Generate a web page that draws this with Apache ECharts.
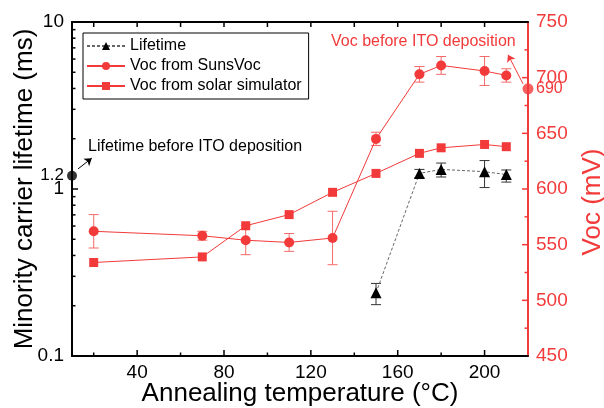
<!DOCTYPE html>
<html>
<head>
<meta charset="utf-8">
<title>Lifetime and Voc vs annealing temperature</title>
<script src="https://cdn.jsdelivr.net/npm/echarts@6/dist/echarts.min.js"></script>
<style>
html, body { margin: 0; padding: 0; background: #fff; }
#chart { width: 604px; height: 408px; }
</style>
</head>
<body>
<div id="chart"></div>
<script>
// data
var temps = [20, 70, 90, 110, 130, 150, 170, 180, 200, 210];
var vocSuns = [562, 558, 554, 552, 556, 645, 703, 711, 706, 702];
var vocSunsErr = [15, 4, 13, 8, 24, 6, 7, 8, 13, 6];
var vocSolar = [534, 539, 567, 577, 597, 614, 632, 637, 640, 638];
var lifeTemps = [150, 170, 180, 200, 210];
var lifetime = [0.239, 1.24, 1.31, 1.27, 1.22];
var lifeLow = [0.203, 1.17, 1.18, 1.02, 1.10];
var lifeHigh = [0.272, 1.31, 1.43, 1.48, 1.30];
var lifeBefore = [[10, 1.2]];
var vocBefore = [[220, 690]];

// ticks and labels
var xMajor = [40, 80, 120, 160, 200];
var xMinor = [20, 60, 100, 140, 180];
var lifeMajor = [1];
var lifeMinor = [0.2, 0.3, 0.4, 0.5, 0.6, 0.7, 0.8, 0.9, 2, 3, 4, 5, 6, 7, 8, 9];
var lifeLabels = [0.1, 1, 1.2, 10];
var vocMajor = [500, 550, 600, 650, 700];
var vocMinor = [475, 525, 575, 625, 675, 725];
var vocLabels = [450, 500, 550, 600, 650, 690, 700, 750];

var RED = '#f23a3a';
var FONT = 'Liberation Sans, Arial, sans-serif';

function pair(xs, ys) {
    return xs.map(function (x, i) { return [x, ys[i]]; });
}

var sunsErr = temps.map(function (x, i) { return [x, vocSuns[i] - vocSunsErr[i], vocSuns[i] + vocSunsErr[i]]; });
var lifeErr = lifeTemps.map(function (x, i) { return [x, lifeLow[i], lifeHigh[i]]; });

// tick lists: [value, isMajor]
var xTicks = xMajor.map(function (v) { return [v, 1]; }).concat(xMinor.map(function (v) { return [v, 0]; }));
var lifeTicks = lifeMajor.map(function (v) { return [10, v, 1]; }).concat(lifeMinor.map(function (v) { return [10, v, 0]; }));
var vocTicks = vocMajor.map(function (v) { return [220, v, 1]; }).concat(vocMinor.map(function (v) { return [220, v, 0]; }));

function errorBars(color) {
    return function (params, api) {
        var x = api.value(0);
        var lo = api.coord([x, api.value(1)]);
        var hi = api.coord([x, api.value(2)]);
        var w = 5;
        var st = { stroke: color, lineWidth: 1 };
        return {
            type: 'group',
            children: [
                { type: 'line', shape: { x1: lo[0], y1: lo[1], x2: hi[0], y2: hi[1] }, style: st },
                { type: 'line', shape: { x1: lo[0] - w, y1: lo[1], x2: lo[0] + w, y2: lo[1] }, style: st },
                { type: 'line', shape: { x1: hi[0] - w, y1: hi[1], x2: hi[0] + w, y2: hi[1] }, style: st }
            ]
        };
    };
}

// inside ticks on bottom and top edges
function xTickMarks(params, api) {
    var v = api.value(0);
    var len = api.value(1) ? 6 : 3.5;
    var b = api.coord([v, 0.1]);
    var t = api.coord([v, 10]);
    var st = { stroke: '#000', lineWidth: 1.5 };
    return {
        type: 'group',
        children: [
            { type: 'line', shape: { x1: b[0], y1: b[1], x2: b[0], y2: b[1] - len }, style: st },
            { type: 'line', shape: { x1: t[0], y1: t[1], x2: t[0], y2: t[1] + 5 }, style: st }
        ]
    };
}

function yTickMarks(color, dir) {
    return function (params, api) {
        var p = api.coord([api.value(0), api.value(1)]);
        var len = api.value(2) ? 6 : 3.5;
        return {
            type: 'line',
            shape: { x1: p[0], y1: p[1], x2: p[0] + dir * len, y2: p[1] },
            style: { stroke: color, lineWidth: 1.5 }
        };
    };
}

var chart = echarts.init(document.getElementById('chart'));

var option = {
    animation: false,
    backgroundColor: '#fff',
    textStyle: { fontFamily: FONT },
    grid: { left: 72, right: 76, top: 22, bottom: 52, outerBoundsMode: 'none', containLabel: false },
    legend: {
        data: ['Lifetime', 'Voc from SunsVoc', 'Voc from solar simulator'],
        orient: 'vertical',
        left: 83,
        top: 33,
        padding: [5, 7, 5, 3],
        itemGap: 4,
        itemWidth: 38,
        itemHeight: 10,
        borderColor: '#000',
        borderWidth: 1,
        borderRadius: 0,
        textStyle: { fontSize: 16, color: '#000', fontFamily: FONT }
    },
    xAxis: [
        {
            type: 'value', position: 'bottom', min: 10, max: 220,
            name: 'Annealing temperature (\u00B0C)',
            nameLocation: 'middle', nameGap: 25, nameMoveOverlap: false,
            nameTextStyle: { fontSize: 26, color: '#000', fontFamily: FONT },
            axisLine: { show: true, lineStyle: { color: '#000', width: 2 } },
            axisTick: { show: false },
            axisLabel: { customValues: xMajor, margin: 7, fontSize: 19, color: '#000', fontFamily: FONT },
            splitLine: { show: false }
        },
        {
            type: 'value', position: 'top', min: 10, max: 220,
            axisLine: { show: true, lineStyle: { color: '#000', width: 2 } },
            axisTick: { show: false },
            axisLabel: { show: false },
            splitLine: { show: false }
        }
    ],
    yAxis: [
        {
            type: 'log', logBase: 10, position: 'left', min: 0.1, max: 10,
            name: 'Minority carrier lifetime (ms)',
            nameLocation: 'middle', nameGap: 34, nameMoveOverlap: false,
            nameTextStyle: { fontSize: 26, color: '#000', fontFamily: FONT },
            axisLine: { show: true, lineStyle: { color: '#000', width: 2 } },
            axisTick: { show: false },
            axisLabel: {
                customValues: lifeLabels, margin: 8, color: '#000', fontFamily: FONT, fontSize: 19,
                formatter: function (v) {
                    var r = Math.round(v * 10) / 10;
                    return r === 1.2 ? '{s|1.2}' : String(r);
                },
                rich: { s: { fontSize: 17, color: '#000', fontFamily: FONT } }
            },
            splitLine: { show: false }
        },
        {
            type: 'value', position: 'right', min: 450, max: 750, interval: 50,
            name: 'Voc (mV)',
            nameLocation: 'middle', nameGap: 52, nameRotate: 90, nameMoveOverlap: false,
            nameTextStyle: { fontSize: 26, color: RED, fontFamily: FONT, padding: [0, 26, 0, 0] },
            axisLine: { show: true, lineStyle: { color: RED, width: 2 } },
            axisTick: { show: false },
            axisLabel: {
                customValues: vocLabels, margin: 8, color: RED, fontSize: 19, fontFamily: FONT,
                formatter: function (v) { return v === 690 ? '{s|690}' : String(v); },
                rich: { s: { fontSize: 16, color: RED, fontFamily: FONT } }
            },
            splitLine: { show: false }
        }
    ],
    graphic: [
        {
            type: 'text', left: 88, top: 139, z: 10,
            style: { text: 'Lifetime before ITO deposition', fontSize: 16, fill: '#000', fontFamily: FONT }
        },
        {
            type: 'text', left: 331, top: 34, z: 10,
            style: { text: 'Voc before ITO deposition', fontSize: 16, fill: RED, fontFamily: FONT }
        }
    ],
    series: [
        {
            name: 'x ticks', type: 'custom', xAxisIndex: 0, yAxisIndex: 0, z: 5, clip: false, silent: true,
            renderItem: xTickMarks, encode: { x: 0 }, data: xTicks
        },
        {
            name: 'lifetime ticks', type: 'custom', xAxisIndex: 0, yAxisIndex: 0, z: 5, clip: false, silent: true,
            renderItem: yTickMarks('#000', 1), encode: { x: 0, y: 1 }, data: lifeTicks
        },
        {
            name: 'voc ticks', type: 'custom', xAxisIndex: 0, yAxisIndex: 1, z: 5, clip: false, silent: true,
            renderItem: yTickMarks(RED, -1), encode: { x: 0, y: 1 }, data: vocTicks
        },
        {
            name: 'Voc error', type: 'custom', xAxisIndex: 0, yAxisIndex: 1, z: 1,
            renderItem: errorBars('#f56a6a'), encode: { x: 0, y: [1, 2] }, data: sunsErr, silent: true
        },
        {
            name: 'Lifetime error', type: 'custom', xAxisIndex: 0, yAxisIndex: 0, z: 1,
            renderItem: errorBars('#333'), encode: { x: 0, y: [1, 2] }, data: lifeErr, silent: true
        },
        {
            name: 'Lifetime', type: 'line', xAxisIndex: 0, yAxisIndex: 0, z: 3,
            data: pair(lifeTemps, lifetime),
            symbol: 'triangle', symbolSize: 11,
            itemStyle: { color: '#000' },
            lineStyle: { color: '#666', width: 1, type: [3, 2] }
        },
        {
            name: 'Voc from SunsVoc', type: 'line', xAxisIndex: 0, yAxisIndex: 1, z: 3,
            data: pair(temps, vocSuns),
            symbol: 'circle', symbolSize: 10,
            itemStyle: { color: RED },
            lineStyle: { color: RED, width: 1 }
        },
        {
            name: 'Voc from solar simulator', type: 'line', xAxisIndex: 0, yAxisIndex: 1, z: 3,
            data: pair(temps, vocSolar),
            symbol: 'rect', symbolSize: 9,
            itemStyle: { color: RED },
            lineStyle: { color: RED, width: 1 }
        },
        {
            name: 'Lifetime before', type: 'scatter', xAxisIndex: 0, yAxisIndex: 0, z: 4, clip: false,
            data: lifeBefore, symbol: 'circle', symbolSize: 10, itemStyle: { color: '#000' },
            markLine: {
                silent: true, symbol: ['none', 'arrow'], symbolSize: 7,
                label: { show: false },
                lineStyle: { color: '#000', width: 1, type: 'solid' },
                data: [[{ coord: [12.8, 1.32] }, { coord: [19.1, 1.53] }]]
            }
        },
        {
            name: 'Voc before', type: 'scatter', xAxisIndex: 0, yAxisIndex: 1, z: 4, clip: false,
            data: vocBefore, symbol: 'circle', symbolSize: 11, itemStyle: { color: RED },
            markLine: {
                silent: true, symbol: ['none', 'arrow'], symbolSize: 7,
                label: { show: false },
                lineStyle: { color: RED, width: 1, type: 'solid' },
                data: [[{ coord: [217.7, 694.5] }, { coord: [210.8, 720.6] }]]
            }
        }
    ]
};

chart.setOption(option);
</script>
</body>
</html>
